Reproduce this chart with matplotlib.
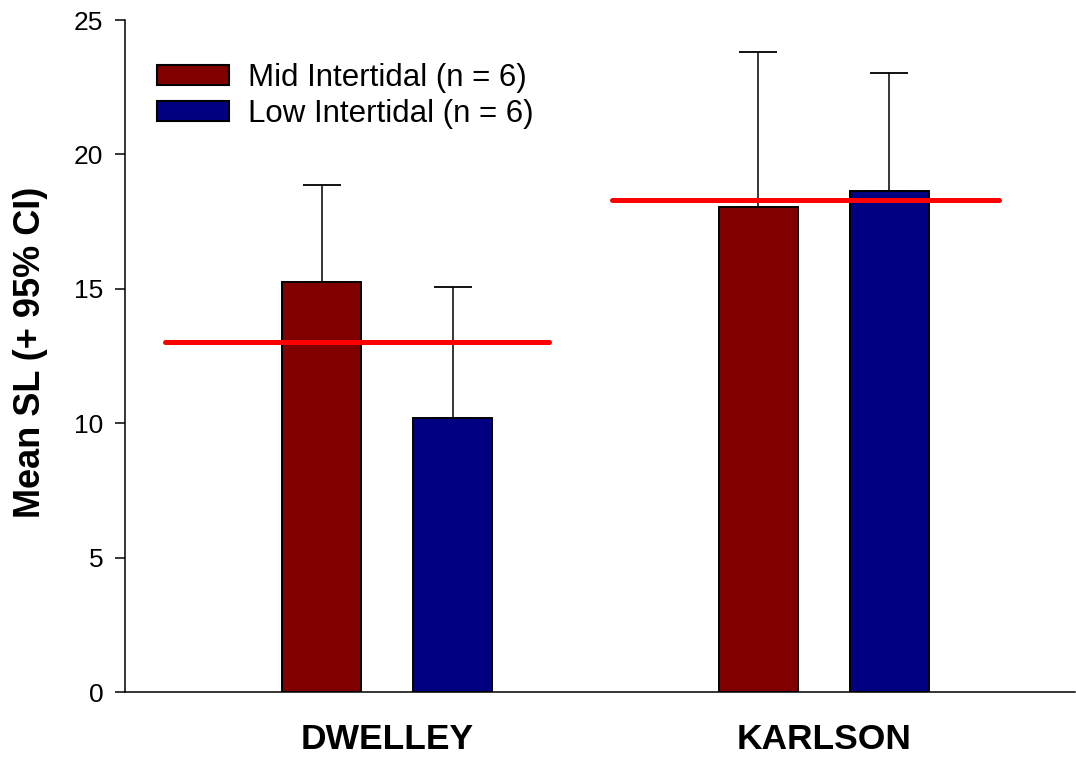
import matplotlib
matplotlib.use("Agg")
import matplotlib.pyplot as plt
import numpy as np

plt.rcParams['font.family'] = ['Liberation Sans', 'DejaVu Sans']

sites = ["DWELLEY", "KARLSON"]
zones = ["Mid Intertidal (n = 6)", "Low Intertidal (n = 6)"]
mid_mean = [15.24, 18.04]
mid_ci = [3.63, 5.78]
low_mean = [10.18, 18.64]
low_ci = [4.89, 4.39]
site_mean = [13.01, 18.30]

colors = ["#800000", "#000080"]

fig = plt.figure(figsize=(10.76, 7.6), dpi=100)
ax = fig.add_axes([125/1076, 68/760, 950/1076, 672/760])

x = np.arange(len(sites))
w = 0.181
off = 0.150

err_kw = dict(ecolor="black", elinewidth=1.1, capsize=14, capthick=1.3)
ax.bar(x - off, mid_mean, w, color=colors[0], edgecolor="black", linewidth=1.4,
       yerr=[np.zeros(2), mid_ci], error_kw=err_kw, label=zones[0], zorder=2)
ax.bar(x + off, low_mean, w, color=colors[1], edgecolor="black", linewidth=1.4,
       yerr=[np.zeros(2), low_ci], error_kw=err_kw, label=zones[1], zorder=2)

# site means drawn as red lines across each group
line_left = [-0.51, -0.485]
line_right = [0.37, 0.40]
for i, m in enumerate(site_mean):
    ax.plot([i + line_left[i], i + line_right[i]], [m, m], color="red", lw=3.6,
            solid_capstyle="round", zorder=3)

ax.set_xlim(-0.601, 1.575)
ax.set_ylim(0, 25)
ax.set_yticks([0, 5, 10, 15, 20, 25])
ax.set_xticks(x)
ax.set_xticklabels(sites, fontsize=25.5, fontweight="bold")
ax.tick_params(axis="x", length=0, pad=22)
ax.tick_params(axis="y", length=7, width=1.1, labelsize=19, pad=8.5, direction="out")
ax.spines["top"].set_visible(False)
ax.spines["right"].set_visible(False)
ax.spines["left"].set_linewidth(1.1)
ax.spines["bottom"].set_linewidth(1.1)

ax.set_ylabel("Mean SL (+ 95% CI)", fontsize=26, fontweight="bold")
ax.yaxis.set_label_coords(-0.081, 0.505)

leg = ax.legend(loc="upper left", bbox_to_anchor=(0.0337, 0.9365), frameon=False,
                fontsize=22.5, handlelength=2.3, handleheight=0.6, handletextpad=0.61,
                borderpad=0, borderaxespad=0, labelspacing=0.21)
for p in leg.get_patches():
    p.set_linewidth(1.5)

fig.savefig("out.png", dpi=100)
